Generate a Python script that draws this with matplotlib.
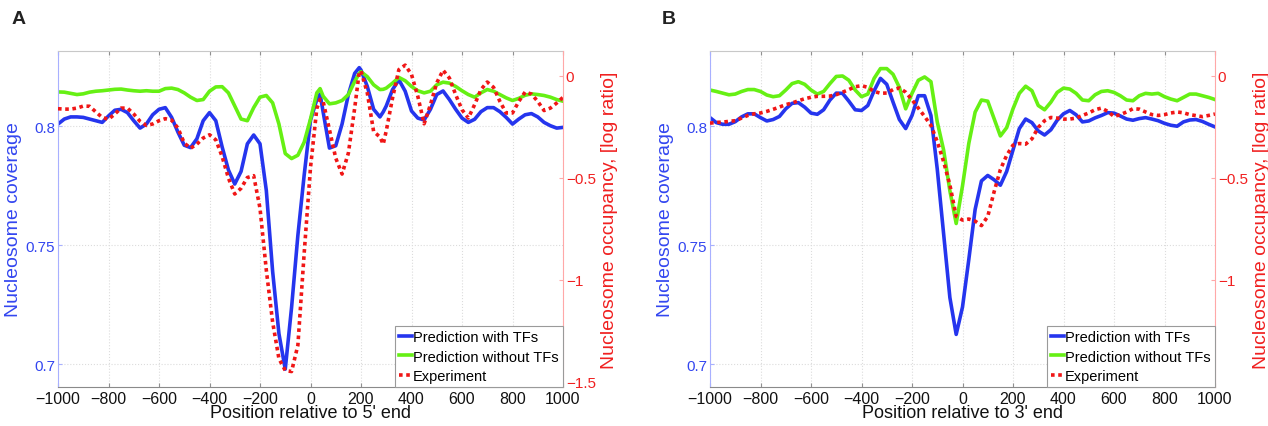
import matplotlib
matplotlib.use('Agg')
import matplotlib.pyplot as plt
from matplotlib.lines import Line2D

plt.rcParams['font.family'] = ['Liberation Sans', 'DejaVu Sans']

# ---------------- data ----------------
x_A = [-1000, -975, -950, -925, -900, -875, -850, -825, -800, -775, -750, -725,
       -700, -675, -650, -625, -600, -575, -550, -525, -500, -475, -450, -425,
       -400, -375, -350, -325, -300, -275, -250, -225, -200, -175, -150, -125,
       -100, -75, -50, -25, 0, 25, 38, 50, 75, 100, 125, 150, 175, 193, 200,
       225, 250, 275, 288, 300, 325, 350, 375, 400, 425, 450, 475, 500, 525,
       550, 575, 600, 625, 650, 675, 700, 725, 750, 775, 800, 825, 850, 875,
       900, 925, 950, 975, 1000]

with_tf_A = [0.8009, 0.8030, 0.8039, 0.8039, 0.8037, 0.8030, 0.8023, 0.8016,
             0.8043, 0.8067, 0.8071, 0.8057, 0.8023, 0.7992, 0.8009, 0.8048,
             0.8071, 0.8078, 0.8037, 0.7975, 0.7920, 0.7910, 0.7947, 0.8023,
             0.8057, 0.8023, 0.7913, 0.7816, 0.7757, 0.7810, 0.7926, 0.7963,
             0.7926, 0.7730, 0.7390, 0.7128, 0.6979, 0.7238, 0.7541, 0.7795,
             0.8025, 0.8112, 0.8135, 0.8060, 0.7908, 0.7918, 0.8009, 0.8133,
             0.8222, 0.8246, 0.8236, 0.8167, 0.8071, 0.8039, 0.8060, 0.8085,
             0.8154, 0.8195, 0.8147, 0.8064, 0.8034, 0.8026, 0.8071, 0.8133,
             0.8148, 0.8112, 0.8071, 0.8034, 0.8016, 0.8029, 0.8061, 0.8078,
             0.8078, 0.8061, 0.8037, 0.8009, 0.8030, 0.8048, 0.8053, 0.8039,
             0.8016, 0.8002, 0.7992, 0.7995]

without_tf_A = [0.8144, 0.8143, 0.8138, 0.8133, 0.8136, 0.8143, 0.8147, 0.8149,
                0.8152, 0.8155, 0.8156, 0.8152, 0.8149, 0.8147, 0.8149, 0.8147,
                0.8147, 0.8158, 0.8160, 0.8154, 0.8140, 0.8122, 0.8108, 0.8112,
                0.8147, 0.8165, 0.8166, 0.8140, 0.8085, 0.8030, 0.8023, 0.8078,
                0.8122, 0.8129, 0.8098, 0.8009, 0.7885, 0.7864, 0.7878, 0.7933,
                0.8030, 0.8140, 0.8158, 0.8126, 0.8094, 0.8098, 0.8108, 0.8133,
                0.8188, 0.8222, 0.8229, 0.8208, 0.8174, 0.8154, 0.8155, 0.8160,
                0.8181, 0.8205, 0.8191, 0.8167, 0.8149, 0.8140, 0.8147, 0.8174,
                0.8185, 0.8181, 0.8167, 0.8149, 0.8133, 0.8122, 0.8140, 0.8154,
                0.8147, 0.8133, 0.8119, 0.8108, 0.8117, 0.8130, 0.8136, 0.8133,
                0.8129, 0.8122, 0.8112, 0.8105]

experiment_A = [-0.161, -0.163, -0.163, -0.158, -0.148, -0.149, -0.177, -0.204,
                -0.213, -0.187, -0.158, -0.158, -0.187, -0.223, -0.243, -0.236,
                -0.220, -0.210, -0.217, -0.256, -0.330, -0.355, -0.335, -0.305,
                -0.289, -0.314, -0.396, -0.502, -0.580, -0.552, -0.499, -0.490,
                -0.650, -0.954, -1.209, -1.389, -1.447, -1.452, -1.323, -0.870,
                -0.450, -0.160, -0.115, -0.125, -0.264, -0.404, -0.482, -0.379,
                -0.158, 0.018, 0.025, -0.084, -0.273, -0.300, -0.335, -0.270,
                -0.108, 0.031, 0.053, 0.007, -0.100, -0.235, -0.141, -0.034,
                0.028, -0.010, -0.092, -0.166, -0.207, -0.141, -0.067, -0.030,
                -0.056, -0.125, -0.182, -0.182, -0.125, -0.079, -0.089, -0.125,
                -0.170, -0.158, -0.133, -0.105]

x_B = [-1000, -975, -950, -925, -900, -875, -850, -825, -800, -775, -750, -725,
       -700, -675, -650, -625, -600, -575, -550, -525, -500, -475, -450, -425,
       -400, -375, -350, -325, -300, -275, -250, -225, -200, -175, -150, -125,
       -100, -75, -50, -25, 0, 25, 50, 75, 100, 125, 150, 175, 200, 225, 250,
       275, 300, 325, 350, 375, 400, 425, 450, 475, 500, 525, 550, 575, 600,
       625, 650, 675, 700, 725, 750, 775, 800, 825, 850, 875, 900, 925, 950,
       975, 1000]

with_tf_B = [0.8036, 0.8015, 0.8008, 0.8008, 0.8019, 0.8039, 0.8052, 0.8052,
             0.8036, 0.8022, 0.8028, 0.8041, 0.8073, 0.8096, 0.8099, 0.8080,
             0.8055, 0.8050, 0.8069, 0.8110, 0.8139, 0.8138, 0.8105, 0.8069,
             0.8066, 0.8087, 0.8149, 0.8201, 0.8176, 0.8101, 0.8028, 0.7990,
             0.8045, 0.8128, 0.8128, 0.8045, 0.7820, 0.7550, 0.7280, 0.7125,
             0.7240, 0.7440, 0.7650, 0.7770, 0.7793, 0.7775, 0.7752, 0.7810,
             0.7900, 0.7990, 0.8030, 0.8015, 0.7980, 0.7963, 0.7985, 0.8025,
             0.8052, 0.8066, 0.8048, 0.8018, 0.8022, 0.8035, 0.8045, 0.8057,
             0.8055, 0.8043, 0.8030, 0.8025, 0.8032, 0.8036, 0.8030, 0.8023,
             0.8012, 0.8004, 0.8000, 0.8018, 0.8026, 0.8028, 0.8020, 0.8008,
             0.7997]

without_tf_B = [0.8152, 0.8146, 0.8139, 0.8132, 0.8135, 0.8146, 0.8154, 0.8154,
                0.8146, 0.8131, 0.8124, 0.8128, 0.8152, 0.8179, 0.8187, 0.8176,
                0.8152, 0.8135, 0.8146, 0.8179, 0.8209, 0.8211, 0.8193, 0.8152,
                0.8124, 0.8135, 0.8201, 0.8242, 0.8242, 0.8218, 0.8163, 0.8073,
                0.8138, 0.8193, 0.8207, 0.8187, 0.8018, 0.7901, 0.7729, 0.7591,
                0.7749, 0.7928, 0.8059, 0.8110, 0.8105, 0.8032, 0.7959, 0.7994,
                0.8073, 0.8138, 0.8168, 0.8149, 0.8087, 0.8069, 0.8101, 0.8142,
                0.8160, 0.8156, 0.8138, 0.8110, 0.8107, 0.8132, 0.8146, 0.8149,
                0.8142, 0.8128, 0.8110, 0.8107, 0.8128, 0.8138, 0.8135, 0.8138,
                0.8124, 0.8114, 0.8107, 0.8121, 0.8135, 0.8135, 0.8128, 0.8121,
                0.8112]

experiment_B = [-0.232, -0.228, -0.227, -0.223, -0.220, -0.207, -0.194, -0.186,
                -0.182, -0.174, -0.164, -0.153, -0.141, -0.133, -0.122, -0.112,
                -0.105, -0.100, -0.100, -0.099, -0.092, -0.080, -0.067, -0.053,
                -0.048, -0.056, -0.076, -0.085, -0.084, -0.067, -0.059, -0.080,
                -0.117, -0.158, -0.199, -0.243, -0.322, -0.420, -0.535, -0.690,
                -0.708, -0.703, -0.713, -0.735, -0.690, -0.570, -0.460, -0.390,
                -0.340, -0.332, -0.335, -0.309, -0.253, -0.220, -0.204, -0.207,
                -0.212, -0.212, -0.207, -0.194, -0.182, -0.166, -0.158, -0.174,
                -0.199, -0.190, -0.177, -0.161, -0.163, -0.177, -0.190, -0.194,
                -0.190, -0.182, -0.177, -0.181, -0.190, -0.195, -0.200, -0.194,
                -0.187]

x_ticks = [-1000, -800, -600, -400, -200, 0, 200, 400, 600, 800, 1000]
left_ticks = [0.7, 0.75, 0.8]
left_labels = ['0.7', '0.75', '0.8']
right_ticks_A = [-1.5, -1.0, -0.5, 0.0]
right_labels_A = ['\u22121.5', '\u22121', '\u22120.5', '0']
right_ticks_B = [-1.0, -0.5, 0.0]
right_labels_B = ['\u22121', '\u22120.5', '0']
legend_labels = ['Prediction with TFs', 'Prediction without TFs', 'Experiment']

# ---------------- styling ----------------
BLUE = '#2535ee'
GREEN = '#66f014'
RED = '#f01616'
BLUE_TXT = '#3346f0'
RED_TXT = '#f02020'

fig = plt.figure(figsize=(12.68, 4.27), dpi=100)


def panel(rect, x, blue, green, red, xlabel, letter, letter_x, rticks, rlabels):
    ax = fig.add_axes(rect)
    ax.plot(x, blue, color=BLUE, lw=2.6, solid_joinstyle='round')
    ax.plot(x, green, color=GREEN, lw=2.6, solid_joinstyle='round')
    ax.set_xlim(-1000, 1000)
    ax.set_ylim(0.6904, 0.8316)
    ax.set_xticks(x_ticks)
    ax.set_xticklabels([('\u2212' + str(-t)) if t < 0 else str(t) for t in x_ticks])
    ax.set_yticks(left_ticks)
    ax.set_yticklabels(left_labels)
    ax.grid(True, ls=':', color='#dcdcdc', lw=0.8)
    ax.set_axisbelow(True)
    ax.tick_params(axis='x', direction='in', length=3, top=True, labelsize=11.5,
                   pad=3, color='#909090', labelcolor='#111111')
    ax.tick_params(axis='y', direction='in', length=3, labelsize=11, pad=2,
                   color='#a8b0ff', labelcolor=BLUE_TXT)
    ax.spines['left'].set_color('#a8b0ff')
    ax.spines['top'].set_color('#c8c8c8')
    ax.spines['bottom'].set_color('#8a8a8a')
    ax.spines['right'].set_visible(False)
    ax.set_xlabel(xlabel, fontsize=13, labelpad=-1.5, color='#111111')
    ax.set_ylabel('Nucleosome coverage', fontsize=14, color=BLUE_TXT, labelpad=3)

    ax2 = ax.twinx()
    ax2.plot(x, red, color=RED, lw=2.6, ls=(0, (1, 1)), dash_capstyle='butt')
    ax2.set_ylim(-1.528, 0.1225)
    ax2.set_yticks(rticks)
    ax2.set_yticklabels(rlabels)
    ax2.tick_params(axis='y', direction='in', length=3, labelsize=11, pad=2,
                    color='#ffa8a8', labelcolor=RED_TXT)
    for s in ('left', 'top', 'bottom'):
        ax2.spines[s].set_visible(False)
    ax2.spines['right'].set_color('#ffa8a8')
    ax2.set_ylabel('Nucleosome occupancy, [log ratio]', fontsize=14,
                   color=RED_TXT, rotation=90, labelpad=4)

    handles = [Line2D([], [], color=BLUE, lw=2.6),
               Line2D([], [], color=GREEN, lw=2.6),
               Line2D([], [], color=RED, lw=2.6, ls=(0, (1, 1)))]
    leg = ax2.legend(handles, legend_labels, loc='lower right', borderaxespad=0,
                     fontsize=10.5, handlelength=0.85, handletextpad=0.1,
                     labelspacing=0.35, borderpad=0.3, fancybox=False,
                     framealpha=1, edgecolor='#9a9a9a')
    leg.get_frame().set_linewidth(0.8)

    fig.text(letter_x, 1 - 20 / 427, letter, fontsize=14, fontweight='bold',
             color='#222222', va='center', ha='left')
    return ax, ax2


W, H = 1268, 427
rect_A = [58 / W, (H - 388) / H, 505 / W, 336 / H]
rect_B = [710 / W, (H - 388) / H, 505 / W, 336 / H]

panel(rect_A, x_A, with_tf_A, without_tf_A, experiment_A,
      "Position relative to 5' end", 'A', 12 / W, right_ticks_A, right_labels_A)
panel(rect_B, x_B, with_tf_B, without_tf_B, experiment_B,
      "Position relative to 3' end", 'B', 662 / W, right_ticks_B, right_labels_B)

fig.savefig('out.png', dpi=100)
